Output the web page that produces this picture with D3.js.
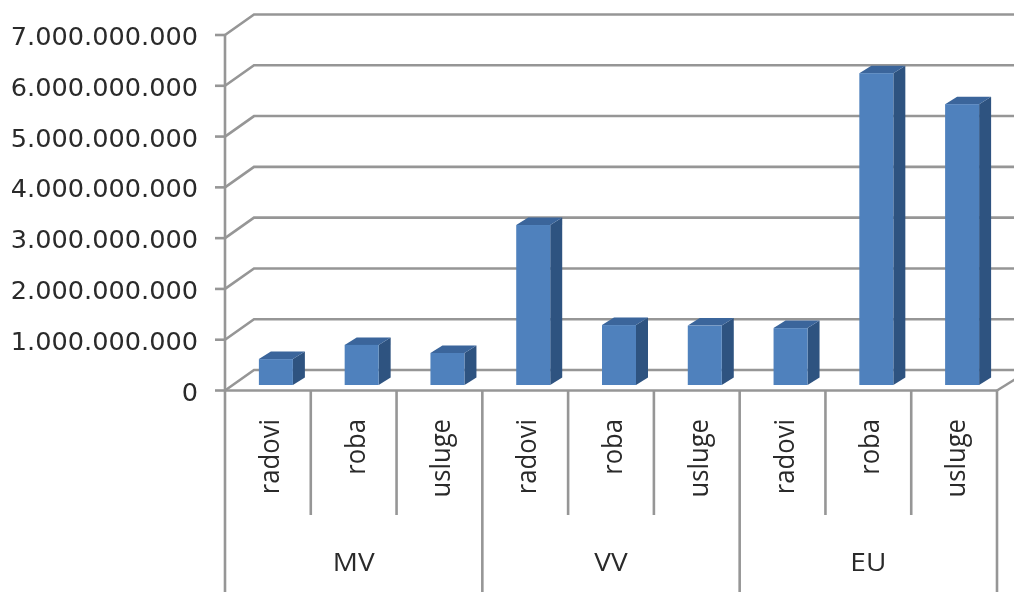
<!DOCTYPE html>
<html><head><meta charset="utf-8">
<script src="https://cdn.jsdelivr.net/npm/d3@7"></script>
<style>html,body{margin:0;padding:0;background:#fff;overflow:hidden}svg{display:block}</style>
</head><body><svg id="c" width="1014" height="592"></svg>
<script>
const groups = ["MV","VV","EU"];
const categories = ["radovi","roba","usluge"];
const values = [0.51e9,0.79e9,0.63e9,3.15e9,1.18e9,1.17e9,1.12e9,6.14e9,5.53e9];
const tickValues = [0,1e9,2e9,3e9,4e9,5e9,6e9,7e9];
const tickLabels = ["0","1.000.000.000","2.000.000.000","3.000.000.000","4.000.000.000","5.000.000.000","6.000.000.000","7.000.000.000"];

const svg = d3.select("#c");
const defs = svg.append("defs");
defs.append("filter").attr("id","soft").attr("filterUnits","userSpaceOnUse")
  .attr("x",0).attr("y",0).attr("width",1014).attr("height",592)
  .append("feGaussianBlur").attr("stdDeviation",0.6);
const root = svg.append("g").attr("filter","url(#soft)");

const y = d3.scaleLinear().domain([0,7e9]).range([390.5,35]);
const x = d3.scaleBand().domain(d3.range(9)).range([225,997]);
const gridC = "#969696", textC = "#2a2a2a";
const wall = {dx:29, dy:-20.5};
const bar = {off:8, w:34, dx:12, dy:-7.5, lift:-5.5};

// grid
tickValues.forEach((t,i)=>{
  const yy = y(t);
  const g = root.append("g").attr("fill","none").attr("stroke",gridC).attr("stroke-width",2.6);
  g.append("path").attr("d",d3.line()([[225,yy],[225+wall.dx,yy+wall.dy],[1030,yy+wall.dy]]));
  g.append("path").attr("d",d3.line()([[215,yy],[225,yy]]));
  root.append("text").attr("transform",`translate(198,${yy+10}) scale(1.045,1)`)
    .attr("text-anchor","end").attr("font-family","DejaVu Sans").attr("font-size",24.5)
    .attr("fill",textC).text(tickLabels[i]);
});
// axes
const ax = root.append("g").attr("stroke",gridC).attr("stroke-width",2.6).attr("fill","none");
ax.append("line").attr("x1",225).attr("x2",225).attr("y1",y(7e9)).attr("y2",592);
ax.append("line").attr("x1",225).attr("x2",997).attr("y1",y(0)).attr("y2",y(0));
ax.append("path").attr("d",d3.line()([[997,y(0)],[1030,y(0)+wall.dy]]));
d3.range(1,10).forEach(i=>{
  const xx = 225 + i*x.step();
  ax.append("line").attr("x1",xx).attr("x2",xx).attr("y1",y(0)).attr("y2",i%3===0?592:515);
});

// bars
values.forEach((v,i)=>{
  const x0 = x(i)+x.bandwidth()/2+bar.off-bar.w/2, x1 = x0+bar.w;
  const yb = y(0)+bar.lift, yt = yb-(y(0)-y(v));
  const g = root.append("g");
  g.append("polygon").attr("fill","#2f5380")
    .attr("points",[[x1,yb],[x1+bar.dx,yb+bar.dy],[x1+bar.dx,yt+bar.dy],[x1,yt]].join(" "));
  g.append("polygon").attr("fill","#3a659b")
    .attr("points",[[x0,yt],[x0+bar.dx,yt+bar.dy],[x1+bar.dx,yt+bar.dy],[x1,yt]].join(" "));
  g.append("rect").attr("x",x0).attr("y",yt).attr("width",bar.w).attr("height",yb-yt)
    .attr("fill","#4f81bd");
  const tx = x(i)+x.bandwidth()/2+11;
  root.append("text").attr("transform",`translate(${tx},419) rotate(-90) scale(0.95,1)`)
    .attr("text-anchor","end").attr("font-family","Open Sans").attr("font-size",27)
    .attr("fill",textC).text(categories[i%3]);
});
groups.forEach((g,i)=>{
  root.append("text").attr("transform",`translate(${225+(i+0.5)*3*x.step()},571) scale(1.12,1)`)
    .attr("text-anchor","middle").attr("font-family","Open Sans").attr("font-size",25)
    .attr("fill",textC).text(g);
});
</script></body></html>
